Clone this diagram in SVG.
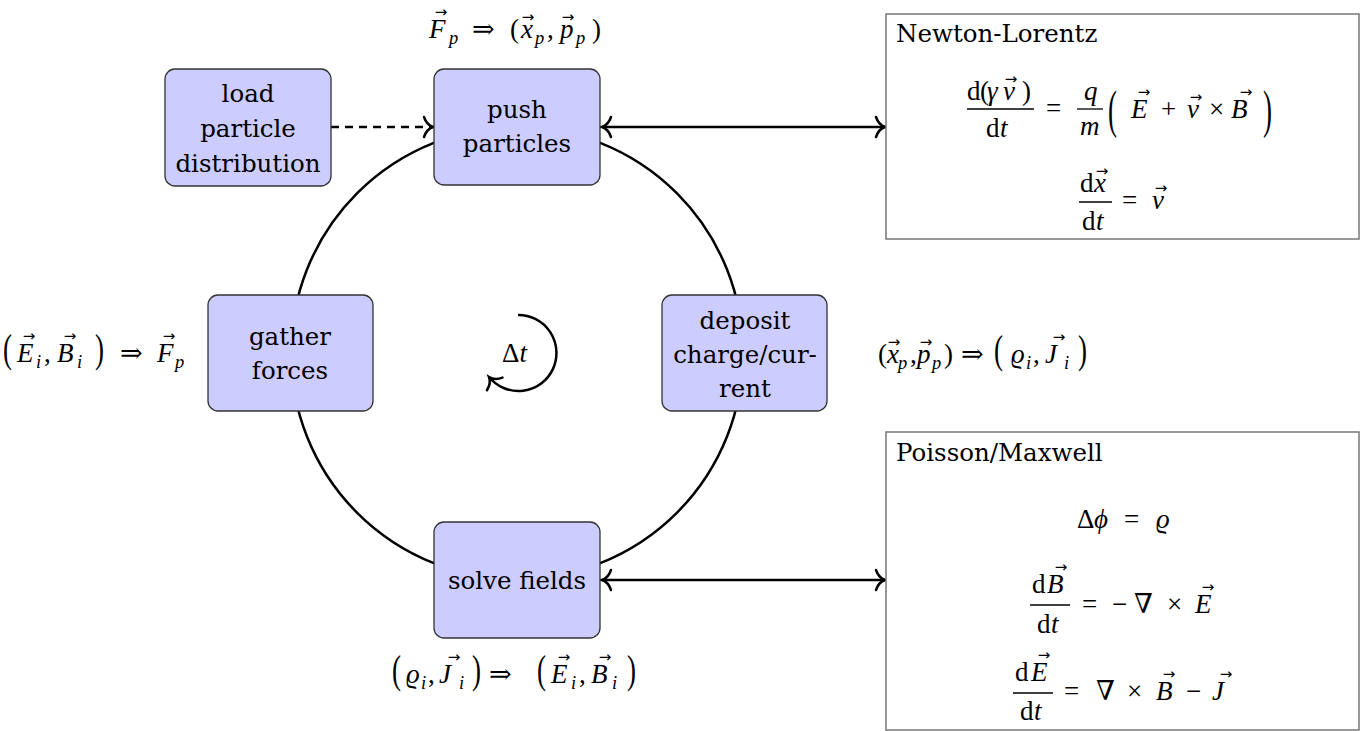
<svg xmlns="http://www.w3.org/2000/svg" width="1367" height="731" viewBox="0 0 1367 731">
<style>
.t{font-family:"DejaVu Serif",serif;font-size:24.5px;fill:#000;text-anchor:middle}
.tl{font-family:"DejaVu Serif",serif;font-size:24.5px;fill:#000}
.m{font-family:"Liberation Serif","DejaVu Serif","DejaVu Sans",serif;font-size:27px;fill:#000}
.i{font-style:italic}
.sb{font-size:18.5px;font-style:italic}
.bp{font-family:"Liberation Serif",serif;font-size:27px;fill:#000}
.ar{font-family:"DejaVu Sans",sans-serif;font-size:15px;text-anchor:middle;fill:#000}
.node rect{fill:#ccccff;stroke:#333;stroke-width:1.3}
.box{fill:#fff;stroke:#777;stroke-width:1.5}
.fr{stroke:#000;stroke-width:1.3}
.c{fill:none;stroke:#000;stroke-width:2.5}
</style>
<defs>
<marker id="to" viewBox="-12 -12 14 24" refX="0" refY="0" markerWidth="14" markerHeight="24" markerUnits="userSpaceOnUse" orient="auto-start-reverse" overflow="visible">
<path d="M -9 -10 C -7 -4 -3 -1 0 0 C -3 1 -7 4 -9 10" fill="none" stroke="#000" stroke-width="2.5" stroke-linecap="round"/>
</marker>
</defs>
<rect width="1367" height="731" fill="#fff"/>

<g id="connectors">
<circle class="c" cx="517" cy="353" r="226"/>
<line class="c" x1="331" y1="127" x2="433" y2="127" stroke-dasharray="8 6" marker-end="url(#to)"/>
<line class="c" x1="602" y1="127" x2="885" y2="127" marker-start="url(#to)" marker-end="url(#to)"/>
<line class="c" x1="602" y1="580" x2="885" y2="580" marker-start="url(#to)" marker-end="url(#to)"/>
</g>

<g id="load" class="node">
<rect x="165" y="69" width="166" height="117" rx="10"/>
<text class="t" x="248" y="102">load</text>
<text class="t" x="248" y="137">particle</text>
<text class="t" x="248" y="172">distribution</text>
</g>
<g id="push" class="node">
<rect x="434" y="69" width="166" height="116" rx="10"/>
<text class="t" x="517" y="118">push</text>
<text class="t" x="517" y="152">particles</text>
</g>
<g id="gather" class="node">
<rect x="208" y="295" width="165" height="116" rx="10"/>
<text class="t" x="290" y="345">gather</text>
<text class="t" x="290" y="379">forces</text>
</g>
<g id="deposit" class="node">
<rect x="662" y="295" width="165" height="116" rx="10"/>
<text class="t" x="745" y="329">deposit</text>
<text class="t" x="745" y="363">charge/cur-</text>
<text class="t" x="745" y="397">rent</text>
</g>
<g id="solve" class="node">
<rect x="434" y="522" width="166" height="116" rx="10"/>
<text class="t" x="517" y="589">solve fields</text>
</g>

<g id="dt">
<path class="c" d="M 518 315 A 38 38 0 1 1 489 377" marker-end="url(#to)"/>
<text class="m" x="502" y="362">Δ<tspan class="i">t</tspan></text>
</g>

<g id="label-top">
<text class="m" y="38"><tspan class="i" x="429">F</tspan><tspan class="sb" x="449" y="44">p</tspan><tspan x="472" y="38">⇒</tspan><tspan x="510">(</tspan><tspan class="i" x="521">x</tspan><tspan class="sb" x="535" y="44">p</tspan><tspan x="547" y="38">,</tspan><tspan class="i" x="560">p</tspan><tspan class="sb" x="576" y="44">p</tspan><tspan x="592" y="38">)</tspan></text>
<text class="ar" x="441" y="17">→</text>
<text class="ar" x="528" y="22">→</text>
<text class="ar" x="568" y="22">→</text>
</g>

<g id="label-left">
<text class="bp" transform="translate(3,362) scale(1,1.45)">(</text>
<text class="bp" transform="translate(95,362) scale(1,1.45)">)</text>
<text class="m" y="362"><tspan class="i" x="17">E</tspan><tspan class="sb" x="36" y="368">i</tspan><tspan x="44" y="362">,</tspan><tspan class="i" x="57">B</tspan><tspan class="sb" x="77" y="368">i</tspan><tspan x="120" y="362">⇒</tspan><tspan class="i" x="157">F</tspan><tspan class="sb" x="175" y="368">p</tspan></text>
<text class="ar" x="29" y="340.5">→</text>
<text class="ar" x="70" y="340.5">→</text>
<text class="ar" x="169" y="340.5">→</text>
</g>

<g id="label-right">
<text class="bp" transform="translate(994,363) scale(1,1.45)">(</text>
<text class="bp" transform="translate(1078,363) scale(1,1.45)">)</text>
<text class="m" y="363"><tspan x="878">(</tspan><tspan class="i" x="887">x</tspan><tspan class="sb" x="898" y="369">p</tspan><tspan x="910" y="363">,</tspan><tspan class="i" x="917">p</tspan><tspan class="sb" x="932" y="369">p</tspan><tspan x="944" y="363">)</tspan><tspan x="961">⇒</tspan><tspan class="i" x="1011">ϱ</tspan><tspan class="sb" x="1026" y="369">i</tspan><tspan x="1033" y="363">,</tspan><tspan class="i" x="1045">J</tspan><tspan class="sb" x="1064" y="369">i</tspan></text>
<text class="ar" x="894" y="347">→</text>
<text class="ar" x="926" y="347">→</text>
<text class="ar" x="1059" y="341.5">→</text>
</g>

<g id="label-bottom">
<text class="bp" transform="translate(392,683) scale(1,1.45)">(</text>
<text class="bp" transform="translate(472,683) scale(1,1.45)">)</text>
<text class="bp" transform="translate(537,683) scale(1,1.45)">(</text>
<text class="bp" transform="translate(627,683) scale(1,1.45)">)</text>
<text class="m" y="683"><tspan class="i" x="406">ϱ</tspan><tspan class="sb" x="421" y="689">i</tspan><tspan x="428" y="683">,</tspan><tspan class="i" x="439">J</tspan><tspan class="sb" x="459" y="689">i</tspan><tspan x="489" y="683">⇒</tspan><tspan class="i" x="551">E</tspan><tspan class="sb" x="571" y="689">i</tspan><tspan x="579" y="683">,</tspan><tspan class="i" x="591">B</tspan><tspan class="sb" x="612" y="689">i</tspan></text>
<text class="ar" x="454" y="661.5">→</text>
<text class="ar" x="564" y="661.5">→</text>
<text class="ar" x="605" y="661.5">→</text>
</g>

<g id="newton-lorentz">
<rect class="box" x="886" y="14" width="473" height="225"/>
<text class="tl" x="896" y="42">Newton-Lorentz</text>
<text class="m" y="100"><tspan x="967">d</tspan><tspan x="980">(</tspan><tspan class="i" x="987">γ</tspan><tspan class="i" x="1003">v</tspan><tspan x="1022">)</tspan></text>
<text class="ar" x="1011" y="84">→</text>
<line class="fr" x1="967" y1="109" x2="1034" y2="109"/>
<text class="m" y="137"><tspan x="986">d</tspan><tspan class="i" x="1000">t</tspan></text>
<text class="m" x="1046" y="117">=</text>
<text class="m i" x="1084" y="100">q</text>
<line class="fr" x1="1077" y1="109" x2="1103" y2="109"/>
<text class="m i" x="1080" y="135">m</text>
<text class="bp" transform="translate(1108,127) scale(1,1.95)">(</text>
<text class="bp" transform="translate(1263,127) scale(1,1.95)">)</text>
<text class="m" y="118"><tspan class="i" x="1131">E</tspan><tspan x="1161">+</tspan><tspan class="i" x="1187">v</tspan><tspan x="1209">×</tspan><tspan class="i" x="1231">B</tspan></text>
<text class="ar" x="1144" y="96.5">→</text>
<text class="ar" x="1196" y="102">→</text>
<text class="ar" x="1246" y="96.5">→</text>
<text class="m" y="192"><tspan x="1080">d</tspan><tspan class="i" x="1094">x</tspan></text>
<text class="ar" x="1102" y="176">→</text>
<line class="fr" x1="1079" y1="202" x2="1112" y2="202"/>
<text class="m" y="230"><tspan x="1082">d</tspan><tspan class="i" x="1096">t</tspan></text>
<text class="m" y="209"><tspan x="1122">=</tspan><tspan class="i" x="1152">v</tspan></text>
<text class="ar" x="1161" y="193">→</text>
</g>

<g id="poisson-maxwell">
<rect class="box" x="886" y="432" width="473" height="298"/>
<text class="tl" x="896" y="461">Poisson/Maxwell</text>
<text class="m" y="528"><tspan x="1077">Δ</tspan><tspan class="i" x="1094">ϕ</tspan><tspan x="1124">=</tspan><tspan class="i" x="1156">ϱ</tspan></text>
<text class="m" y="593"><tspan x="1032">d</tspan><tspan class="i" x="1047">B</tspan></text>
<text class="ar" x="1061" y="571.5">→</text>
<line class="fr" x1="1030" y1="605" x2="1070" y2="605"/>
<text class="m" y="633"><tspan x="1037">d</tspan><tspan class="i" x="1051">t</tspan></text>
<text class="m" y="613"><tspan x="1082">=</tspan><tspan x="1112">−</tspan><tspan x="1134">∇</tspan><tspan x="1167">×</tspan><tspan class="i" x="1195">E</tspan></text>
<text class="ar" x="1208" y="591.5">→</text>
<text class="m" y="681"><tspan x="1015">d</tspan><tspan class="i" x="1031">E</tspan></text>
<text class="ar" x="1044" y="659.5">→</text>
<line class="fr" x1="1013" y1="693" x2="1053" y2="693"/>
<text class="m" y="720"><tspan x="1020">d</tspan><tspan class="i" x="1034">t</tspan></text>
<text class="m" y="700"><tspan x="1064">=</tspan><tspan x="1096">∇</tspan><tspan x="1127">×</tspan><tspan class="i" x="1156">B</tspan><tspan x="1186">−</tspan><tspan class="i" x="1212">J</tspan></text>
<text class="ar" x="1169" y="678.5">→</text>
<text class="ar" x="1226" y="678.5">→</text>
</g>
</svg>
